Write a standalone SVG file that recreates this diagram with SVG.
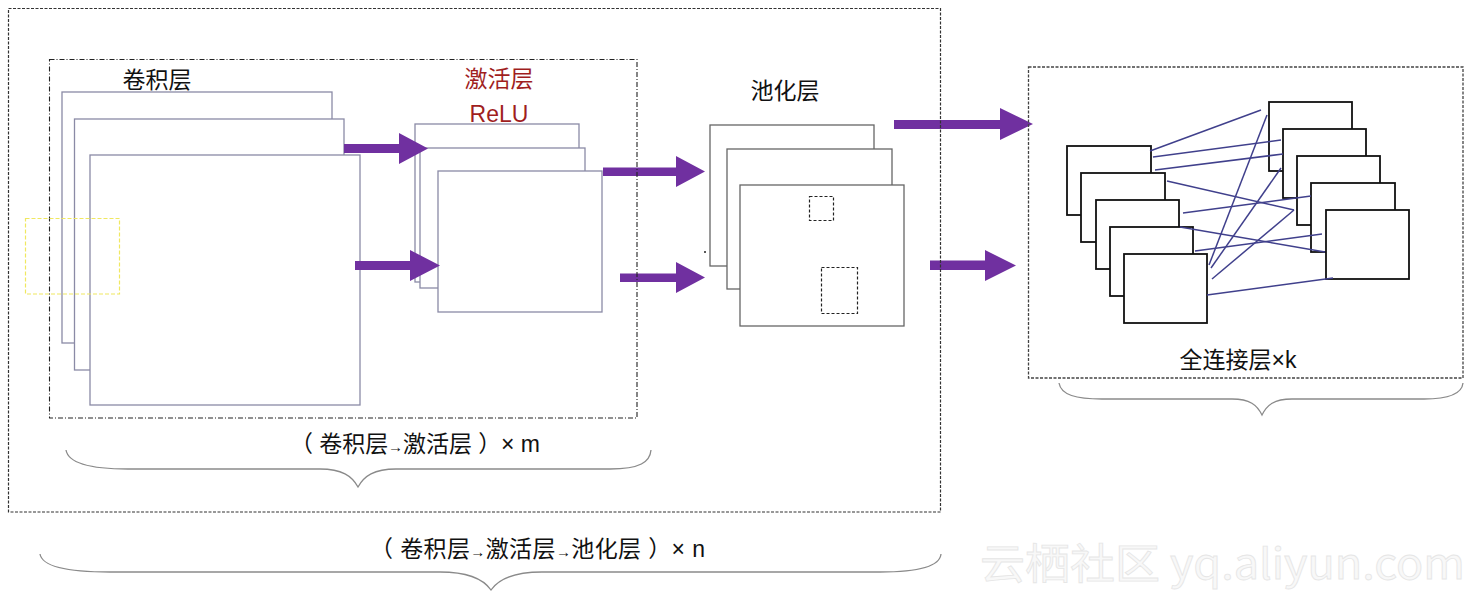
<svg xmlns="http://www.w3.org/2000/svg" width="1477" height="598" viewBox="0 0 1477 598">
<style>
.t{font-family:"Liberation Sans","Noto Sans CJK SC",sans-serif;font-size:23px;fill:#111}
.red{fill:#a01e1e}
.conv{fill:#fff;stroke:#8a8aa6;stroke-width:1.3}
.pool{fill:#fff;stroke:#666;stroke-width:1.3}
.fc{fill:#fff;stroke:#111;stroke-width:1.8}
.arrow{fill:#7030a0}
.link{stroke:#40408c;stroke-width:1.5}
.brace{fill:none;stroke:#8a8a8a;stroke-width:1.3}
.wm{font-family:"Noto Sans CJK SC","Liberation Sans",sans-serif;font-size:42px;fill:#f8f8f8;stroke:#e6e6e6;stroke-width:0.8}
</style>
<rect width="1477" height="598" fill="#fff"/>

<g id="conv-layer">
<rect class="conv" x="62" y="92" width="270" height="251"/>
<rect class="conv" x="74.5" y="119" width="269.5" height="251"/>
<rect class="conv" x="90" y="155" width="270" height="250"/>
<text class="t" x="157" y="88" text-anchor="middle" font-size="23.5">卷积层</text>
</g>

<g id="activation-layer">
<rect class="conv" x="415" y="124" width="164" height="158"/>
<rect class="conv" x="420" y="148" width="165" height="140"/>
<rect class="conv" x="438" y="171" width="164" height="141"/>
<text class="t red" x="499" y="87" text-anchor="middle" font-size="24">激活层</text>
<text class="t red" x="499" y="122" text-anchor="middle" font-size="24">ReLU</text>
</g>

<g id="pooling-layer">
<rect class="pool" x="710" y="125" width="164" height="141"/>
<rect class="pool" x="727" y="149" width="165" height="140"/>
<rect class="pool" x="740" y="185" width="164" height="141"/>
<rect x="809.5" y="196.5" width="24" height="24" fill="none" stroke="#222" stroke-width="1.2" stroke-dasharray="3 2"/>
<rect x="821.5" y="267.5" width="36" height="46" fill="none" stroke="#222" stroke-width="1.2" stroke-dasharray="3 2"/>
<circle cx="705" cy="252" r="1" fill="#222"/>
<text class="t" x="785" y="99" text-anchor="middle" font-size="24">池化层</text>
</g>

<g id="fc-layer">
<rect class="fc" x="1067" y="146" width="84" height="69"/>
<rect class="fc" x="1081" y="173" width="84" height="69"/>
<rect class="fc" x="1096" y="200" width="83" height="69"/>
<rect class="fc" x="1110" y="227" width="83" height="69"/>
<rect class="fc" x="1124" y="254" width="83" height="69"/>
<rect class="fc" x="1269" y="102" width="83" height="69"/>
<rect class="fc" x="1283" y="129" width="83" height="69"/>
<rect class="fc" x="1297" y="156" width="83" height="69"/>
<rect class="fc" x="1311" y="183" width="84" height="69"/>
<rect class="fc" x="1326" y="210" width="83" height="69"/>
<g id="fc-links">
<line class="link" x1="1150" y1="151" x2="1261" y2="110"/>
<line class="link" x1="1153" y1="157" x2="1281" y2="140"/>
<line class="link" x1="1155" y1="170" x2="1283" y2="154"/>
<line class="link" x1="1167" y1="181" x2="1294" y2="210"/>
<line class="link" x1="1183" y1="213" x2="1311" y2="196"/>
<line class="link" x1="1180" y1="227" x2="1325" y2="252"/>
<line class="link" x1="1195" y1="251" x2="1322" y2="234"/>
<line class="link" x1="1207" y1="295" x2="1333" y2="278"/>
<line class="link" x1="1209" y1="265" x2="1267" y2="115"/>
<line class="link" x1="1211" y1="268" x2="1281" y2="168"/>
<line class="link" x1="1212" y1="279" x2="1294" y2="210"/>
</g>
<text class="t" x="1238" y="368" text-anchor="middle" font-size="24">全连接层×k</text>
</g>

<g id="connectors">
<path class="arrow" d="M344,144 H399 V133 L428,148.5 L399,164 V153 H344 Z"/>
<path class="arrow" d="M355,261 H410 V250 L440,265.5 L410,281 V270 H355 Z"/>
<path class="arrow" d="M603,167.5 H676 V156 L705,171.5 L676,187 V176 H603 Z"/>
<path class="arrow" d="M620,273.5 H676 V262 L705,277.5 L676,293 V282 H620 Z"/>
<path class="arrow" d="M894,120 H1000 V108 L1033,124 L1000,140 V129 H894 Z"/>
<path class="arrow" d="M930,260.5 H985 V250 L1016,265.5 L985,281 V270 H930 Z"/>
</g>

<g id="groups">
<rect x="8.5" y="8.5" width="932" height="503.5" fill="none" stroke="#333" stroke-width="1.2" stroke-dasharray="3 1.5"/>
<rect x="49.5" y="59.5" width="587.5" height="358.5" fill="none" stroke="#222" stroke-width="1.1" stroke-dasharray="5 2 1 2"/>
<rect x="1028.5" y="67" width="434.5" height="311" fill="none" stroke="#444" stroke-width="1.3" stroke-dasharray="3 1.5"/>
<rect x="25.5" y="218.5" width="94" height="75.5" fill="none" stroke="#f0e860" stroke-width="1.2" stroke-dasharray="4 2"/>
</g>

<g id="braces">
<path class="brace" d="M66,450 C68,462 88,469 128,469 L320,469 C342,469 352,476 358,487 C364,476 374,469 396,469 L610,469 C640,469 650,462 651,450"/>
<path class="brace" d="M40,554 C42,566 66,572 110,572 L440,572 C470,572 484,580 491,590 C498,580 512,572 542,572 L880,572 C920,572 940,566 941,554"/>
<path class="brace" d="M1059,383 C1061,395 1076,399 1102,399 L1232,399 C1250,399 1257,405 1262,415 C1267,405 1274,399 1292,399 L1424,399 C1450,399 1462,393 1463,383"/>
</g>

<g id="labels">
<text class="t" x="290" y="452" font-size="21" textLength="250" lengthAdjust="spacing">（ 卷积层<tspan font-size="15">→</tspan>激活层 ）× m</text>
<text class="t" x="370" y="557" font-size="21" textLength="335" lengthAdjust="spacing">（ 卷积层<tspan font-size="15">→</tspan>激活层<tspan font-size="15">→</tspan>池化层 ）× n</text>
</g>

<text class="wm" x="980" y="579" textLength="485" lengthAdjust="spacingAndGlyphs">云栖社区 yq.aliyun.com</text>
</svg>
